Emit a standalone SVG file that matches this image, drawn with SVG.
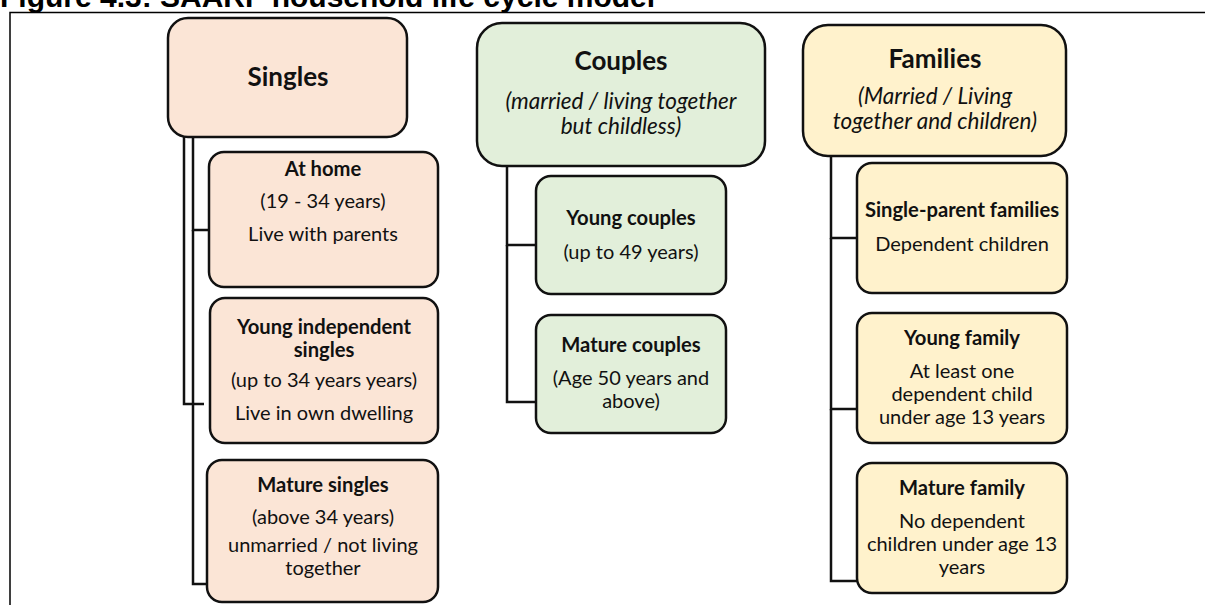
<svg xmlns="http://www.w3.org/2000/svg" width="1206" height="605" viewBox="0 0 1206 605">
<style>
.title{font-family:"Liberation Sans",Arial,sans-serif;font-weight:bold;font-size:30px;fill:#000}
.box{stroke:#111;stroke-width:2.5}
.s{fill:#FBE5D6}.c{fill:#E2EFDA}.f{fill:#FFF2CC}
text{font-family:Lato,"Open Sans",sans-serif;fill:#111;text-anchor:middle}
.h{font-weight:bold;font-size:26px}
.sub{font-style:italic;font-size:22.5px}
.b{font-weight:bold;font-size:20.2px}
.t{font-size:20px}
.con{fill:none;stroke:#111;stroke-width:2.5}
.frame{fill:none;stroke:#000;stroke-width:1.5}
</style>
<text class="title" x="0" y="7" style="text-anchor:start;font-family:'Liberation Sans',Arial,sans-serif">Figure 4.3: SAARF household life cycle model</text>
<path class="frame" d="M10,605 V12.5 H1205"/>
<g id="connectors">
<path class="con" d="M193,137 V230 H209"/>
<path class="con" d="M184,137 V404 H204"/>
<path class="con" d="M193,230 V584 H207"/>
<path class="con" d="M507,166 V245 H537"/>
<path class="con" d="M507,245 V402 H537"/>
<path class="con" d="M831,156 V238 H858"/>
<path class="con" d="M831,238 V409 H858"/>
<path class="con" d="M831,409 V581 H858"/>
</g>
<g id="singles">
<rect class="box s" x="168" y="18" width="239" height="119" rx="20"/>
<text class="h" x="288" y="86">Singles</text>
</g>
<g id="at-home">
<rect class="box s" x="209" y="152" width="229" height="135" rx="15"/>
<text class="b" x="323" y="176">At home</text>
<text class="t" x="323" y="208">(19 - 34 years)</text>
<text class="t" x="323" y="241">Live with parents</text>
</g>
<g id="young-independent">
<rect class="box s" x="210" y="298" width="228" height="145" rx="15"/>
<text class="b" x="324" y="334">Young independent</text>
<text class="b" x="324" y="357">singles</text>
<text class="t" x="324" y="387">(up to 34 years years)</text>
<text class="t" x="324" y="420">Live in own dwelling</text>
</g>
<g id="mature-singles">
<rect class="box s" x="207" y="460" width="231" height="142" rx="15"/>
<text class="b" x="323" y="492">Mature singles</text>
<text class="t" x="323" y="524">(above 34 years)</text>
<text class="t" x="323" y="552">unmarried / not living</text>
<text class="t" x="323" y="575">together</text>
</g>
<g id="couples">
<rect class="box c" x="477" y="23" width="288" height="143" rx="25"/>
<text class="h" x="621" y="70">Couples</text>
<text class="sub" x="621" y="109">(married / living together</text>
<text class="sub" x="621" y="134">but childless)</text>
</g>
<g id="young-couples">
<rect class="box c" x="536" y="176" width="190" height="118" rx="15"/>
<text class="b" x="631" y="225">Young couples</text>
<text class="t" x="631" y="259">(up to 49 years)</text>
</g>
<g id="mature-couples">
<rect class="box c" x="536" y="315" width="190" height="118" rx="15"/>
<text class="b" x="631" y="352">Mature couples</text>
<text class="t" x="631" y="385">(Age 50 years and</text>
<text class="t" x="631" y="408">above)</text>
</g>
<g id="families">
<rect class="box f" x="803" y="25" width="263" height="131" rx="25"/>
<text class="h" x="935" y="68">Families</text>
<text class="sub" x="935" y="104">(Married / Living</text>
<text class="sub" x="935" y="129">together and children)</text>
</g>
<g id="single-parent">
<rect class="box f" x="857" y="163" width="210" height="130" rx="15"/>
<text class="b" x="962" y="217">Single-parent families</text>
<text class="t" x="962" y="251">Dependent children</text>
</g>
<g id="young-family">
<rect class="box f" x="857" y="313" width="210" height="130" rx="15"/>
<text class="b" x="962" y="345">Young family</text>
<text class="t" x="962" y="378">At least one</text>
<text class="t" x="962" y="401">dependent child</text>
<text class="t" x="962" y="424">under age 13 years</text>
</g>
<g id="mature-family">
<rect class="box f" x="857" y="463" width="210" height="130" rx="15"/>
<text class="b" x="962" y="495">Mature family</text>
<text class="t" x="962" y="528">No dependent</text>
<text class="t" x="962" y="551">children under age 13</text>
<text class="t" x="962" y="574">years</text>
</g>
</svg>
